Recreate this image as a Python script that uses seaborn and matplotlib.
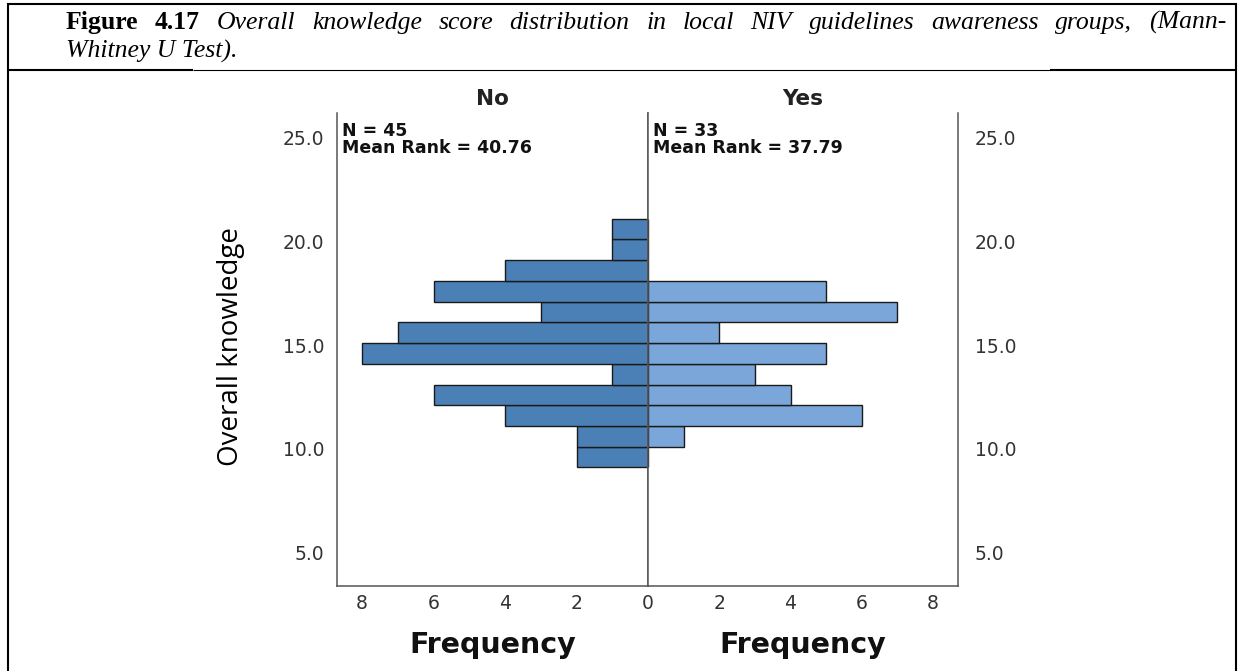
import matplotlib
matplotlib.use("Agg")
import matplotlib.pyplot as plt
from matplotlib.lines import Line2D
import seaborn as sns

# ---------------- data ----------------
bin_edges = [9.1, 10.1, 11.1, 12.1, 13.1, 14.1, 15.1, 16.1, 17.1, 18.1, 19.1, 20.1, 21.1]
bin_mids = [9.6, 10.6, 11.6, 12.6, 13.6, 14.6, 15.6, 16.6, 17.6, 18.6, 19.6, 20.6]
no_counts = [2, 2, 4, 6, 1, 8, 7, 3, 6, 4, 1, 1]
yes_counts = [0, 1, 6, 4, 3, 5, 2, 7, 5, 0, 0, 0]
groups = ["No", "Yes"]
group_n = [45, 33]
mean_ranks = [40.76, 37.79]
y_ticks = [5.0, 10.0, 15.0, 20.0, 25.0]
x_ticks = [0, 2, 4, 6, 8]
y_label = "Overall knowledge"
x_label = "Frequency"
title_bold = "Figure 4.17"
title_line1 = "Overall knowledge score distribution in local NIV guidelines awareness groups, (Mann-"
title_line2 = "Whitney U Test)."

# ---------------- style ----------------
sns.set_style("white")
plt.rcParams["font.family"] = ["DejaVu Sans"]

W, H = 1238, 671
fig = plt.figure(figsize=(W / 100, H / 100), dpi=100)
fig.patch.set_facecolor("white")

def fx(px):
    return px / W

def fy(py):
    return 1 - py / H

ax_top, ax_bot = 113, 586
x_zero, x_left, x_right = 648, 337, 958
axL = fig.add_axes([fx(x_left), fy(ax_bot), fx(x_zero - x_left), (ax_bot - ax_top) / H])
axR = fig.add_axes([fx(x_zero), fy(ax_bot), fx(x_right - x_zero), (ax_bot - ax_top) / H])

colors = ["#4A80B5", "#7BA6D9"]
counts = [no_counts, yes_counts]
spine_col = "#555555"
tick_col = "#333333"

for i, ax in enumerate([axL, axR]):
    sns.histplot(y=bin_mids, weights=counts[i], bins=bin_edges, ax=ax,
                 color=colors[i], edgecolor="#1a1a1a", linewidth=1.0, alpha=1.0)
    ax.set_ylim(3.38, 26.2)
    ax.set_yticks(y_ticks)
    ax.set_yticklabels([f"{v:.1f}" for v in y_ticks])
    ax.set_xticks(x_ticks)
    ax.tick_params(axis="both", length=0, labelsize=13.5, colors=tick_col)
    ax.tick_params(axis="x", pad=6)
    ax.spines["top"].set_visible(False)
    for s in ["left", "right", "bottom"]:
        ax.spines[s].set_visible(True)
        ax.spines[s].set_color(spine_col)
        ax.spines[s].set_linewidth(1.1)
    ax.set_ylabel("")
    ax.set_xlabel(x_label, fontsize=20.5, fontweight="bold", color="#111111", labelpad=13)
    ax.set_title(groups[i], fontsize=15.5, fontweight="bold", color="#222222", pad=6)
    ax.text(0.016, 0.982, f"N = {group_n[i]}\nMean Rank = {mean_ranks[i]:.2f}",
            transform=ax.transAxes, ha="left", va="top", fontsize=12.5,
            fontweight="bold", color="#111111", linespacing=0.95)
    ax.grid(False)

axL.set_xticklabels([str(v) for v in x_ticks])
axR.set_xticklabels([""] + [str(v) for v in x_ticks[1:]])
axL.set_xlim(8.7, 0)
axR.set_xlim(0, 8.7)
axL.yaxis.tick_left()
axL.tick_params(axis="y", pad=9)
axR.yaxis.tick_right()
axR.tick_params(axis="y", pad=12, labelleft=False, labelright=True)

fig.text(fx(231), fy(347), y_label, rotation=90, ha="center", va="center",
         fontsize=20, family=["Open Sans", "DejaVu Sans"], color="#000000")

# ---------------- caption (justified first line) ----------------
renderer = fig.canvas.get_renderer()
serif = ["Liberation Serif", "DejaVu Serif"]
title_fs = 18.5
words = [(w, "bold", "normal") for w in title_bold.split()] + \
        [(w, "normal", "italic") for w in title_line1.split()]
txts = []
for w, wt, st in words:
    t = fig.text(0, fy(29), w, fontsize=title_fs, family=serif, fontweight=wt,
                 fontstyle=st, ha="left", va="baseline", color="black")
    txts.append(t)
widths = [t.get_window_extent(renderer).width for t in txts]
x_start, x_end = 66, 1226
gap = (x_end - x_start - sum(widths)) / (len(widths) - 1)
xc = x_start
for t, wd in zip(txts, widths):
    t.set_x(fx(xc))
    xc += wd + gap
fig.text(fx(x_start), fy(58), title_line2, fontsize=title_fs, family=serif,
         fontstyle="italic", ha="left", va="baseline", color="black")

# ---------------- frame lines ----------------
def hline(x0, x1, y, lw):
    fig.add_artist(Line2D([fx(x0), fx(x1)], [fy(y), fy(y)], transform=fig.transFigure,
                          color="black", linewidth=lw, solid_capstyle="butt"))

def vline(x, y0, y1, lw):
    fig.add_artist(Line2D([fx(x), fx(x)], [fy(y0), fy(y1)], transform=fig.transFigure,
                          color="black", linewidth=lw, solid_capstyle="butt"))

hline(7, 1237, 4, 1.5)
vline(8, 3, 671, 1.5)
vline(1236, 3, 671, 1.5)
hline(7, 193, 70, 1.5)
hline(193, 1050, 70, 0.8)
hline(1050, 1237, 70, 1.5)

fig.savefig("out.png", dpi=100, facecolor="white")
